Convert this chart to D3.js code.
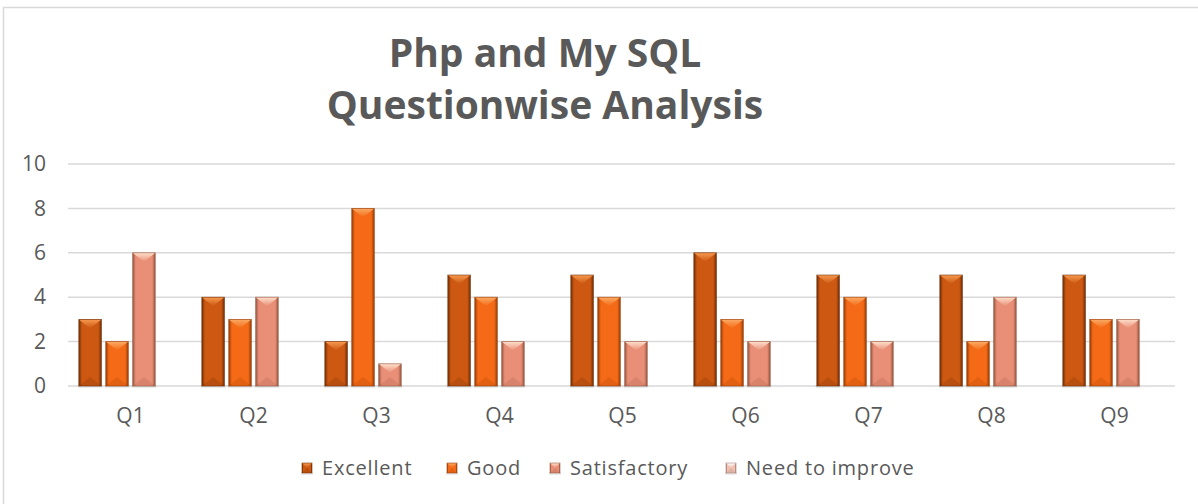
<!DOCTYPE html>
<html>
<head>
<meta charset="utf-8">
<script src="https://cdn.jsdelivr.net/npm/d3@7"></script>
<style>
  body { margin: 0; background: #fff; }
  svg { display: block; font-family: "Open Sans", "Noto Sans", sans-serif; }
</style>
</head>
<body>
<div id="chart"></div>
<script>
// chart data
const questions = ["Q1", "Q2", "Q3", "Q4", "Q5", "Q6", "Q7", "Q8", "Q9"];
const seriesNames = ["Excellent", "Good", "Satisfactory", "Need to improve"];
const excellent = [3, 4, 2, 5, 5, 6, 5, 5, 5];
const good = [2, 3, 8, 4, 4, 3, 4, 2, 3];
const satisfactory = [6, 4, 1, 2, 2, 2, 2, 4, 3];
const needToImprove = [0, 0, 0, 0, 0, 0, 0, 0, 0];
const yTicks = [0, 2, 4, 6, 8, 10];

const seriesValues = [excellent, good, satisfactory, needToImprove];

// bevel colours per series: edge, body, top highlight
const palette = [
    {edge: "#6e2c06", body: "#cc5811", light: "#f79a50"},
    {edge: "#943c07", body: "#f46a16", light: "#fbab66"},
    {edge: "#94553f", body: "#ea8f77", light: "#fde0cc"},
    {edge: "#a27d78", body: "#f0c0b0", light: "#ffffff"}
];

const width = 1198, height = 504;
const margin = {top: 164, right: 22, bottom: 118, left: 69};
const labelFont = "\"Open Sans\", sans-serif";

const svg = d3.select("#chart").append("svg")
    .attr("width", width)
    .attr("height", height);

// chart border (only top and left show in the crop)
svg.append("rect")
    .attr("x", 3.5).attr("y", 7.5)
    .attr("width", width + 10).attr("height", height + 10)
    .attr("fill", "none")
    .attr("stroke", "#d9d9d9")
    .attr("stroke-width", 1.5);

const defs = svg.append("defs");
palette.forEach((c, i) => {
    const g = defs.append("linearGradient").attr("id", "body" + i)
        .attr("x1", 0).attr("x2", 1).attr("y1", 0).attr("y2", 0);
    g.append("stop").attr("offset", "0%").attr("stop-color", c.edge);
    g.append("stop").attr("offset", "14%").attr("stop-color", c.body);
    g.append("stop").attr("offset", "86%").attr("stop-color", c.body);
    g.append("stop").attr("offset", "100%").attr("stop-color", c.edge);

    const t = defs.append("linearGradient").attr("id", "top" + i)
        .attr("x1", 0).attr("x2", 0).attr("y1", 0).attr("y2", 1);
    t.append("stop").attr("offset", "0%").attr("stop-color", c.light);
    t.append("stop").attr("offset", "100%").attr("stop-color", c.body);
});

const x = d3.scaleBand()
    .domain(questions)
    .range([margin.left, width - margin.right])
    .paddingInner(0)
    .paddingOuter(0);

const xInner = d3.scaleBand()
    .domain(seriesNames)
    .range([9.8, x.bandwidth() - 9.8])
    .paddingInner(0.16);

const y = d3.scaleLinear()
    .domain([0, 10])
    .range([height - margin.bottom, margin.top]);

// gridlines
svg.append("g")
    .selectAll("line")
    .data(yTicks)
    .join("line")
    .attr("x1", margin.left - 1)
    .attr("x2", width - margin.right - 1)
    .attr("y1", d => y(d))
    .attr("y2", d => y(d))
    .attr("stroke", "#d9d9d9")
    .attr("stroke-width", 1.5);

// y axis labels
const yAxis = svg.append("g")
    .attr("transform", `translate(${margin.left}, 0)`)
    .call(d3.axisLeft(y).tickValues(yTicks).tickSize(0).tickPadding(23));
yAxis.select(".domain").remove();
yAxis.selectAll("text")
    .attr("fill", "#595959")
    .style("font-size", "21px")
    .style("font-family", labelFont);

// x axis labels
const xAxis = svg.append("g")
    .attr("transform", `translate(0, ${y(0)})`)
    .call(d3.axisBottom(x).tickSize(0).tickPadding(22));
xAxis.select(".domain").remove();
xAxis.selectAll("text")
    .attr("fill", "#595959")
    .style("font-size", "21px")
    .style("font-family", labelFont);

// bars
const bars = [];
questions.forEach((q, qi) => {
    seriesNames.forEach((s, si) => {
        bars.push({q: q, s: s, si: si, v: seriesValues[si][qi]});
    });
});

function drawBevel(g, bx, by, bw, bh, si) {
    if (bh <= 0) return;
    const th = Math.min(9, bh / 2);
    // soft shadow under bar
    g.append("rect")
        .attr("x", bx - 1).attr("y", by + bh - 1)
        .attr("width", bw + 2).attr("height", 3)
        .attr("fill", "#000").attr("opacity", 0.08);
    g.append("rect")
        .attr("x", bx).attr("y", by)
        .attr("width", bw).attr("height", bh)
        .attr("fill", `url(#body${si})`);
    // top highlight triangle
    g.append("path")
        .attr("d", `M${bx},${by} L${bx + bw},${by} L${bx + bw / 2},${by + th} Z`)
        .attr("fill", `url(#top${si})`);
    // darker bottom triangle
    g.append("path")
        .attr("d", `M${bx},${by + bh} L${bx + bw},${by + bh} L${bx + bw / 2},${by + bh - th} Z`)
        .attr("fill", palette[si].edge)
        .attr("opacity", 0.2);
    // thin edge lines
    g.append("rect")
        .attr("x", bx).attr("y", by)
        .attr("width", bw).attr("height", bh)
        .attr("fill", "none")
        .attr("stroke", palette[si].edge)
        .attr("stroke-opacity", 0.7)
        .attr("stroke-width", 0.8);
}

const barLayer = svg.append("g");
bars.forEach(d => {
    const bx = x(d.q) + xInner(d.s);
    const by = y(d.v);
    const bh = y(0) - y(d.v);
    drawBevel(barLayer.append("g"), bx, by, xInner.bandwidth(), bh, d.si);
});

// title
const title = svg.append("text")
    .attr("text-anchor", "middle")
    .attr("fill", "#595959")
    .style("font-size", "39px")
    .style("font-weight", "bold")
    .style("font-family", labelFont);
title.append("tspan").attr("x", 545).attr("y", 67).text("Php and My SQL");
title.append("tspan").attr("x", 545).attr("y", 119).text("Questionwise Analysis");

// legend
const legendX = [302, 447, 550, 726];
const legend = svg.append("g");
seriesNames.forEach((s, i) => {
    const g = legend.append("g");
    drawBevel(g, legendX[i], 463, 10, 10, i);
    g.append("text")
        .attr("x", legendX[i] + 20)
        .attr("y", 468)
        .attr("dy", "0.35em")
        .attr("fill", "#595959")
        .style("font-size", "20px")
        .style("letter-spacing", "0.8px")
        .style("font-family", labelFont)
        .text(s);
});
</script>
</body>
</html>
